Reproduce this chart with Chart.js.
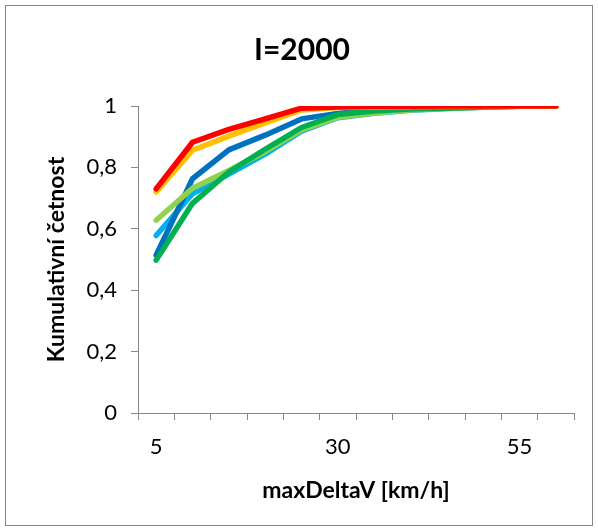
<!DOCTYPE html>
<html>
<head>
<meta charset="utf-8">
<script src="https://cdn.jsdelivr.net/npm/chart.js@4"></script>
<style>
  html, body { margin: 0; padding: 0; background: #fff; }
  #wrap { position: relative; width: 598px; height: 531px; }
</style>
</head>
<body>
<div id="wrap"><canvas id="c" width="598" height="531"></canvas></div>
<script>
// maxDeltaV classes [km/h]
const categories = ['5', '10', '15', '20', '25', '30', '35', '40', '45', '50', '55', '60'];
const shownLabels = ['5', '30', '55'];
const yTicks = [0, 0.2, 0.4, 0.6, 0.8, 1];

// cumulative frequency per series
const redValues        = [0.730, 0.882, 0.924, 0.958, 0.993, 0.997, 0.998, 0.999, 1.000, 1.000, 1.000, 1.000];
const orangeValues     = [0.720, 0.856, 0.902, 0.945, 0.987, 0.995, 0.997, 0.998, 0.999, 1.000, 1.000, 1.000];
const greenValues      = [0.498, 0.683, 0.785, 0.859, 0.930, 0.972, 0.984, 0.990, 0.993, 0.997, 0.999, 1.000];
const lightGreenValues = [0.628, 0.732, 0.790, 0.851, 0.922, 0.963, 0.977, 0.987, 0.992, 0.996, 0.999, 1.000];
const blueValues       = [0.514, 0.763, 0.857, 0.905, 0.958, 0.976, 0.988, 0.993, 0.996, 0.998, 1.000, 1.000];
const lightBlueValues  = [0.578, 0.714, 0.778, 0.843, 0.918, 0.962, 0.976, 0.986, 0.992, 0.996, 0.999, 1.000];

const axisGray = '#868686';

function series(values, color) {
  return {
    data: values,
    borderColor: color,
    backgroundColor: color,
    borderWidth: 5.5,
    borderCapStyle: 'round',
    borderJoinStyle: 'round',
    pointRadius: 0,
    pointHoverRadius: 0,
    tension: 0,
    fill: false
  };
}

// outer frame of the chart object
const framePlugin = {
  id: 'frame',
  beforeDraw(chart) {
    const ctx = chart.ctx;
    ctx.save();
    ctx.fillStyle = '#ffffff';
    ctx.fillRect(0, 0, chart.width, chart.height);
    ctx.strokeStyle = axisGray;
    ctx.lineWidth = 1;
    ctx.strokeRect(5.5, 5.5, 587, 520);
    ctx.restore();
  }
};

new Chart(document.getElementById('c'), {
  type: 'line',
  data: {
    labels: categories,
    datasets: [
      series(redValues, '#FF0000'),
      series(orangeValues, '#FFC000'),
      series(greenValues, '#00B050'),
      series(lightGreenValues, '#92D050'),
      series(blueValues, '#0070C0'),
      series(lightBlueValues, '#00B0F0')
    ]
  },
  options: {
    responsive: false,
    animation: false,
    devicePixelRatio: 1,
    layout: { padding: { left: 30, right: 24, top: 0, bottom: 18 } },
    plugins: {
      legend: { display: false },
      tooltip: { enabled: false },
      title: {
        display: true,
        text: 'I=2000',
        color: '#000',
        font: { family: 'Lato', size: 30, weight: 'bold' },
        padding: { top: 32, bottom: 38 }
      }
    },
    scales: {
      x: {
        type: 'category',
        offset: true,
        grid: {
          offset: true,
          drawOnChartArea: false,
          drawTicks: true,
          tickLength: 7,
          tickColor: axisGray,
          tickWidth: 1
        },
        border: { color: axisGray, width: 1 },
        ticks: {
          autoSkip: false,
          maxRotation: 0,
          color: '#000',
          padding: 14,
          font: { family: 'Lato', size: 22 },
          callback: function (value) {
            const lab = this.getLabelForValue(value);
            return shownLabels.includes(lab) ? lab : '';
          }
        },
        title: {
          display: true,
          text: 'maxDeltaV [km/h]',
          color: '#000',
          font: { family: 'Lato', size: 23, weight: 'bold' },
          padding: { top: 0, bottom: 9 }
        },
        afterFit(scale) { scale.height = 100; }
      },
      y: {
        min: 0,
        max: 1,
        afterBuildTicks(scale) { scale.ticks = yTicks.map(v => ({ value: v })); },
        grid: {
          drawOnChartArea: false,
          drawTicks: true,
          tickLength: 7,
          tickColor: axisGray,
          tickWidth: 1
        },
        border: { color: axisGray, width: 1 },
        ticks: {
          color: '#000',
          padding: 14,
          font: { family: 'Lato', size: 22 },
          callback: v => String(Math.round(v * 10) / 10).replace('.', ',')
        },
        title: {
          display: true,
          text: 'Kumulativní četnost',
          color: '#000',
          font: { family: 'Lato', size: 23, weight: 'bold' },
          padding: { top: 13, bottom: 0 }
        },
        afterFit(scale) { scale.width = 108; }
      }
    }
  },
  plugins: [framePlugin]
});
</script>
</body>
</html>
